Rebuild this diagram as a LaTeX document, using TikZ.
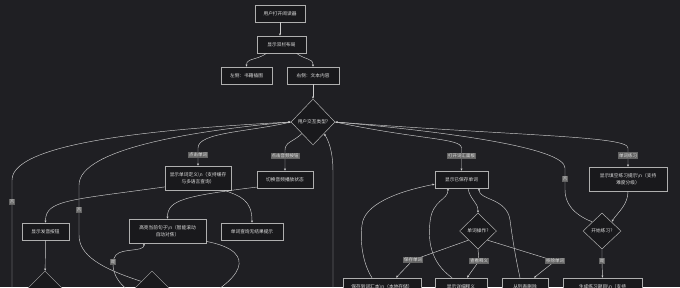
\documentclass[tikz,border=0pt]{standalone}
\usepackage{fontspec}
\setmainfont{Noto Sans CJK SC}
\usepackage{tikz}
\usetikzlibrary{arrows.meta,calc,shapes.geometric}
\definecolor{flowbg}{RGB}{31,31,35}
\definecolor{flowbox}{RGB}{25,25,28}
\definecolor{flowedge}{RGB}{205,205,205}
\definecolor{flowframe}{RGB}{175,175,175}
\definecolor{flowtext}{RGB}{225,225,225}
\definecolor{flowlbl}{RGB}{100,100,100}

\begin{document}
\begin{tikzpicture}[x=1pt,y=-1pt,font=\fontsize{4.7}{7}\selectfont,>={Latex[length=2.2pt,width=2.2pt]},
    box/.style={draw=flowframe,fill=flowbox,text=flowtext,line width=0.5pt,align=center,inner sep=1pt,minimum height=17pt},
    dec/.style={diamond,draw=flowframe,fill=flowbox,text=flowtext,line width=0.5pt,inner sep=0pt,align=center},
    edge/.style={->,draw=flowedge,line width=0.45pt},
    lbl/.style={fill=flowlbl,text=flowtext,inner sep=1pt,font=\fontsize{4.5}{5}\selectfont}]
    \useasboundingbox (0,0) rectangle (680,287);
    \clip (0,0) rectangle (680,287);
    \fill[flowbg] (0,0) rectangle (680,287);
    % top of the flow
    \node[box,minimum width=50pt] (open) at (280,13.5) {用户打开阅读器};
    \node[box,minimum width=49pt] (layout) at (281.5,44.5) {显示双栏布局};
    \node[box,minimum width=51pt] (left) at (246.5,75.5) {左侧：书籍插图};
    \node[box,minimum width=52pt] (right) at (313,75.5) {右侧：文本内容};
    \node[dec,minimum width=44pt,minimum height=46pt] (act) at (313,122) {用户交互类型?};
    % second row
    \node[box,minimum width=66pt,minimum height=24pt] (define) at (198,178) {显示单词定义\textbackslash n（支持缓存\\与多语言查询）};
    \node[box,minimum width=56pt] (audio) at (285,179.5) {切换音频播放状态};
    \node[box,minimum width=53pt] (saved) at (461.5,179.5) {显示已保存单词};
    \node[box,minimum width=78pt,minimum height=24pt] (hint) at (628,179) {显示填空练习提示\textbackslash n（支持\\难度分级）};
    % third row
    \node[box,minimum width=47pt] (voice) at (45.5,231.5) {显示发音按钮};
    \node[box,minimum width=77pt,minimum height=24pt] (hilite) at (167.5,231) {高亮当前句子\textbackslash n（智能滚动\\自动对焦）};
    \node[box,minimum width=62pt] (nores) at (252,231.5) {单词查询无结果提示};
    \node[dec,minimum width=37pt,minimum height=36pt] (wordop) at (478,231) {单词操作?};
    \node[dec,minimum width=38pt,minimum height=36pt] (start) at (602,231) {开始练习?};
    % cut off at the bottom
    \node[dec,minimum width=40pt,minimum height=40pt] (voicedec) at (45,291) {};
    \node[dec,minimum width=42pt,minimum height=42pt] (playdec) at (152,292) {};
    \node[box,minimum width=78pt,minimum height=24pt] (keep) at (382,290) {保存到词汇本\textbackslash n（本地存储）\\自动同步};
    \node[box,minimum width=52pt] (meaning) at (461,286.5) {显示详细释义};
    \node[box,minimum width=46pt] (remove) at (525,286.5) {从列表删除};
    \node[box,minimum width=79pt,minimum height=24pt] (quiz) at (602.5,290) {生成练习题目\textbackslash n（支持\\自动评分）};
    \coordinate (farA) at (12,300);
    \coordinate (farB) at (333,300);
    \coordinate (farC) at (190,305);

    \draw[edge] (open.south) -- (open.south |- layout.north);
    \draw[edge] ($(layout.south)+(-15,0)$) .. controls (258,60) and (246.5,58) .. (left.north);
    \draw[edge] ($(layout.south)+(15,0)$) .. controls (305,60) and (313,58) .. (right.north);
    \draw[edge] (right) -- (act);
    \draw[edge] (act.west) .. controls (250,132) and (198,132) .. (198,148) -- node[lbl,pos=0.4]{点击单词} (define.north);
    \draw[edge] (act.south west) .. controls (293,142) and (285,142) .. (285,150) -- node[lbl,pos=0.3]{点击音频按钮} (audio.north);
    \draw[edge] (act.east) .. controls (420,140) and (461.5,138) .. (461.5,148) -- node[lbl,pos=0.35]{打开词汇面板} (saved.north);
    \draw[edge] (act.east) .. controls (520,136) and (628,136) .. (628,148) -- node[lbl,pos=0.4]{单词练习} (hint.north);
    % back to the question
    \draw[edge] (start.north west) .. controls (572,214) and (565,202) .. (565,190) -- node[lbl]{否} (565,168) .. controls (565,148) and (450,132) .. (act.east);
    \draw[edge] (farA) -- node[lbl,pos=0.815]{否} (12,180) .. controls (12,140) and (180,128) .. (act.west);
    \draw[edge] (playdec.north west) .. controls (100,268) and (79,255) .. (79,235) -- node[lbl]{否} (79,185) .. controls (79,148) and (200,130) .. (act.west);
    \draw[edge] (farB) -- (333,172) .. controls (333,150) and (328,140) .. (act.south east);
    % left part
    \draw[edge] (define.195) .. controls (70,200) and (45.5,200) .. (voice.north);
    \draw[edge] (audio.195) .. controls (185,196) and (167.5,200) .. (hilite.north);
    \draw[edge] (define.-25) .. controls (240,196) and (252,200) .. (nores.north);
    \draw[edge] (voice) -- (voicedec);
    \draw[edge] (playdec.west) .. controls (112,280) and (110,262) .. (116,255) node[lbl,pos=0.75]{是} .. controls (122,248) and (144,252) .. ($(hilite.south)+(-23.5,0)$);
    \draw[edge] (hilite.-15) .. controls (262,252) and (240,282) .. (farC);
    % saved words
    \draw[edge] ($(saved.south)+(6.5,0)$) .. controls (470,200) and (478,202) .. (wordop.north);
    \draw[edge] (wordop.south west) -- (413,260) node[lbl]{保存单词} -- ($(keep.north)+(14,0)$);
    \draw[edge] (wordop.south) -- (479,261) node[lbl]{查看释义} -- ($(meaning.north)+(6,0)$);
    \draw[edge] (wordop.south east) -- (555,261) node[lbl]{移除单词} -- ($(remove.north)+(9,0)$);
    \draw[edge] ($(keep.north)+(-10,0)$) .. controls (362,262) and (360,240) .. (362,225) .. controls (364,205) and (395,192) .. (saved.190);
    \draw[edge] ($(meaning.north)+(-9,0)$) .. controls (430,262) and (428,240) .. (430,222) .. controls (432,200) and (448,200) .. ($(saved.south)+(-13.5,0)$);
    \draw[edge] ($(remove.north)+(-5,0)$) .. controls (515,255) and (512,235) .. (510,220) .. controls (507,198) and (479,200) .. ($(saved.south)+(17.5,0)$);
    % practice
    \draw[edge] (hint.south) .. controls (628,205) and (618,212) .. (start.north east);
    \draw[edge] (start.south) -- (602,261) node[lbl]{是} -- (quiz.north);
\end{tikzpicture}
\end{document}
